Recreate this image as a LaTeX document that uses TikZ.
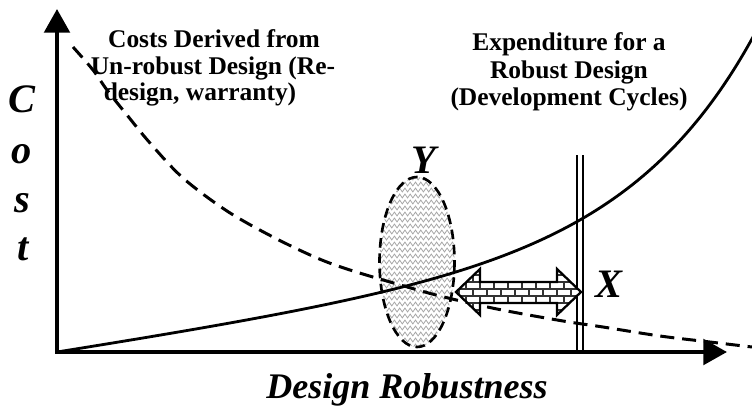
\documentclass[tikz,border=0pt]{standalone}
\usepackage{fontspec}
\setmainfont{Liberation Serif}
\usetikzlibrary{arrows.meta,decorations.pathmorphing}

\begin{document}
\begin{tikzpicture}[x=0.02cm, y=-0.02cm,
  axis/.style={line width=2.3pt,
    {Triangle[length=13.5pt,width=14.5pt]}-{Triangle[length=13.5pt,width=14.5pt]}},
  gain/.style={line width=1.6pt, line join=round},
  loss/.style={line width=1.7pt, dash pattern=on 8pt off 4.5pt},
  note/.style={font=\fontsize{14.5}{16}\selectfont\bfseries, anchor=base, inner sep=0pt},
  letter/.style={font=\fontsize{23}{23}\selectfont\bfseries\itshape, anchor=base, inner sep=0pt},
  caption/.style={font=\fontsize{20.5}{22}\selectfont\bfseries\itshape, anchor=base, inner sep=0pt},
  wave/.style={gray!70, line width=0.45pt, decorate,
    decoration={zigzag, segment length=3pt, amplitude=1.1pt}},
  brick/.style={black!80, line width=0.6pt},
  bar/.style={line width=0.9pt}]
\useasboundingbox (0,0) rectangle (752,410);

% origin and axis ends
\coordinate (O) at (57,352);
\coordinate (ytop) at (57,9);
\coordinate (xend) at (727,352);

% zone Y: hatched ellipse
\begin{scope}
  \clip (417,262) ellipse [x radius=37.5, y radius=85];
  \foreach \r in {0,...,30}
    \draw[wave] (372,172+6*\r) -- (462,172+6*\r);
\end{scope}
\draw[line width=1.5pt, dash pattern=on 5.5pt off 3.2pt] (417,262) ellipse [x radius=37.5, y radius=85];

% cost of an un-robust design (falling)
\draw[loss] plot[smooth, tension=0.55] coordinates {
  (73,47) (93,70) (107,90) (127,115) (150,143) (183,178) (227,211)
  (273,237) (317,258) (350,270) (397,284) (440,296) (497,309)
  (563,321) (603,327) (660,336) (710,342) (752,347)};
% cost of a robust design (rising)
\draw[gain] plot[domain=0:700, samples=140, smooth]
  ({57+\x}, {352-(0.154*\x+0.799*(exp(0.008*\x)-1))});

% axes
\draw[axis] (ytop) -- (O) -- (xend);

% double bar at X
\draw[bar] (577,155) -- (577,352);
\draw[bar] (583,155) -- (583,352);

% brick-filled double arrow between Y and X
\newcommand\gapoutline{(456,292) -- (480,269) -- (480,282) -- (557,282) -- (557,269)
  -- (581,292) -- (557,315) -- (557,303) -- (480,303) -- (480,315) -- cycle}
\fill[white] \gapoutline;
\begin{scope}
  \clip \gapoutline;
  \foreach \k in {0,...,6} {
    \draw[brick] (450,268+7*\k) -- (590,268+7*\k);
    \pgfmathsetmacro\shift{mod(\k,2)*7}
    \foreach \j in {0,...,10}
      \draw[brick] (452+14*\j+\shift,268+7*\k) -- (452+14*\j+\shift,275+7*\k);
  }
\end{scope}
\draw[line width=1.3pt, line join=miter] \gapoutline;

% labels
\node[letter] (lY) at (424,173) {Y};
\node[letter] (lX) at (609,297) {X};
\node[letter] (c1) at (22,112) {C};
\node[letter] (c2) at (22,163) {o};
\node[letter] (c3) at (22,212) {s};
\node[letter] (c4) at (23,260) {t};
\node[caption] (xlabel) at (407,398) {Design Robustness};

\node[note] (l1) at (214,47) {Costs Derived from};
\node[note] (l2) at (213,74) {Un-robust Design (Re-};
\node[note] (l3) at (200,100) {design, warranty)};

\node[note] (r1) at (569,50) {Expenditure for a};
\node[note] (r2) at (569,78) {Robust Design};
\node[note] (r3) at (569,105) {(Development Cycles)};
\end{tikzpicture}
\end{document}
